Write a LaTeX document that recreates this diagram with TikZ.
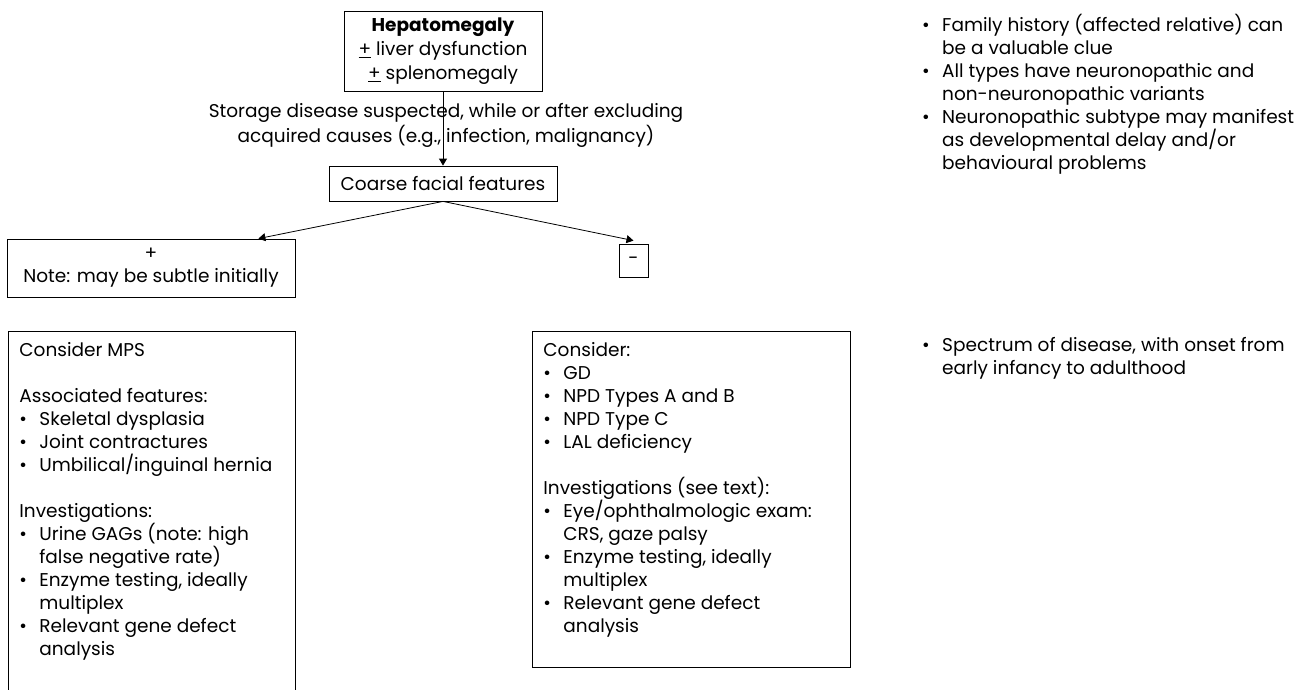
\documentclass[tikz,border=0pt]{standalone}
\usepackage{fontspec}
\setmainfont{Poppins}
\usetikzlibrary{arrows.meta}

\newcommand{\bul}{\makebox[20pt][l]{\textbullet}}
\newcommand{\ind}{\hspace*{20pt}}

\begin{document}
\begin{tikzpicture}[x=1pt, y=-1pt]
        % Define node styles
        \tikzstyle{box} = [draw, line width=0.8pt, rectangle, inner sep=0pt, align=center, font=\fontsize{18.5}{23}\selectfont]
        \tikzstyle{listbox} = [draw, line width=0.8pt, rectangle, anchor=north west, inner xsep=11pt, inner ysep=11pt, font=\fontsize{18.5}{23}\selectfont]
        \tikzstyle{note} = [anchor=north west, inner sep=0pt, align=left, font=\fontsize{18.5}{23}\selectfont]
        \tikzstyle{flow} = [-{Triangle[length=7pt, width=8pt]}, line width=0.8pt]

        \useasboundingbox (0,0) rectangle (1314,689);

        % Draw the nodes
        \node[box, minimum width=198pt, minimum height=80pt, font=\fontsize{18.5}{24}\selectfont] (hep) at (443,51)
            {\textbf{Hepatomegaly}\\ \underline{+} liver dysfunction\\ \underline{+} splenomegaly};
        \node[align=center, font=\fontsize{18.5}{25}\selectfont] (cond) at (446,125)
            {Storage disease suspected, while or after excluding\\ acquired causes (e.g., infection, malignancy)};
        \node[box, minimum width=228pt, minimum height=35pt] (coarse) at (443,183.5) {Coarse facial features};
        \node[box, minimum width=288pt, minimum height=58pt] (pos) at (151,268) {+\\ Note: may be subtle initially};
        \node[box, minimum width=29pt, minimum height=33pt] (neg) at (633.5,260.5) {-};

        \node[listbox] (mps) at (8,331) {\parbox[t][360pt][t]{265pt}{%
            Consider MPS\\[23pt]
            Associated features:\\
            \bul Skeletal dysplasia\\
            \bul Joint contractures\\
            \bul Umbilical/inguinal hernia\\[23pt]
            Investigations:\\
            \bul Urine GAGs (note: high\\
            \ind false negative rate)\\
            \bul Enzyme testing, ideally\\
            \ind multiplex\\
            \bul Relevant gene defect\\
            \ind analysis}};
        \node[listbox] (other) at (532,331) {\parbox[t][314pt][t]{296pt}{%
            Consider:\\
            \bul GD\\
            \bul NPD Types A and B\\
            \bul NPD Type C\\
            \bul LAL deficiency\\[23pt]
            Investigations (see text):\\
            \bul Eye/ophthalmologic exam:\\
            \ind CRS, gaze palsy\\
            \bul Enzyme testing, ideally\\
            \ind multiplex\\
            \bul Relevant gene defect\\
            \ind analysis}};

        \node[note] (clues) at (922,14)
            {\bul Family history (affected relative) can\\
             \ind be a valuable clue\\
             \bul All types have neuronopathic and\\
             \ind non-neuronopathic variants\\
             \bul Neuronopathic subtype may manifest\\
             \ind as developmental delay and/or\\
             \ind behavioural problems};
        \node[note] (spectrum) at (922,337)
            {\bul Spectrum of disease, with onset from\\
             \ind early infancy to adulthood};

        % Draw the arrows
        \draw[flow] (hep) -- (coarse);
        \draw[flow] (coarse.south) -- ([xshift=-37pt]pos.north east);
        \draw[flow] (coarse.south) -- ([yshift=3pt]neg.north);
    \end{tikzpicture}
\end{document}
